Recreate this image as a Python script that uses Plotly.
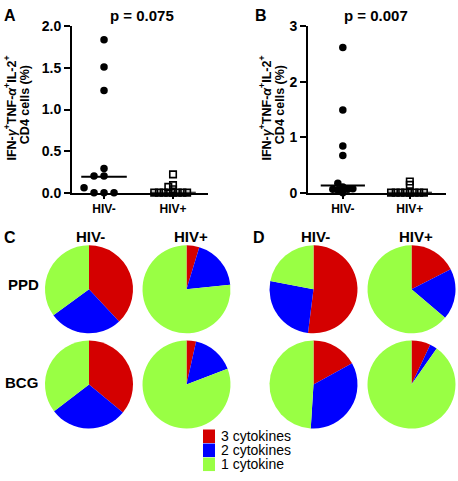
import plotly.graph_objects as go

# ---------------- data ----------------
groups = ["HIV-", "HIV+"]

A_hivneg = [1.84, 1.51, 1.23, 0.29, 0.20, 0.20, 0.06, 0.0, 0.0, 0.0]
A_hivpos = [0.22, 0.09, 0.07, 0.04, 0.0, 0.0, 0.0, 0.0, 0.0, 0.0, 0.0, 0.0]
A_medians = [0.19, 0.0]
A_ticks = [0, 0.5, 1.0, 1.5, 2.0]
A_pvalue = "p = 0.075"

B_hivneg = [2.62, 1.49, 0.84, 0.67, 0.17, 0.10, 0.07, 0.06, 0.06, 0.05, 0.0]
B_hivpos = [0.20, 0.14, 0.0, 0.0, 0.0, 0.0, 0.0, 0.0, 0.0, 0.0]
B_medians = [0.13, 0.0]
B_ticks = [0, 1, 2, 3]
B_pvalue = "p = 0.007"

categories = ["3 cytokines", "2 cytokines", "1 cytokine"]
C_PPD_hivneg = [38.0, 27.0, 35.0]
C_PPD_hivpos = [4.7, 18.6, 76.7]
C_BCG_hivneg = [36.0, 28.6, 35.4]
C_BCG_hivpos = [3.5, 15.7, 80.8]
D_PPD_hivneg = [52.0, 26.0, 22.0]
D_PPD_hivpos = [17.5, 18.7, 63.8]
D_BCG_hivneg = [17.0, 34.0, 49.0]
D_BCG_hivpos = [7.0, 2.7, 90.3]
stimuli = ["PPD", "BCG"]

colors = ["#d40000", "#0000ff", "#99ff44"]

# ---------------- layout helpers ----------------
W, H = 458, 481
FONT = "Liberation Sans, Arial, sans-serif"


def px(x):
    return x / W


def py(y):
    return 1 - y / H


def swarm(values, ppx, ppy, diam, step):
    """Simple deterministic beeswarm offsets (in data x units)."""
    placed = []
    offs = [0.0] * len(values)
    order = sorted(range(len(values)), key=lambda i: values[i])
    cands = [0] + [s * k for k in range(1, 30) for s in (-1, 1)]
    for i in order:
        yv = values[i] * ppy
        xo = 0
        for c in cands:
            xo = c * step
            if all((xo - a) ** 2 + (yv - b) ** 2 >= diam ** 2 - 1e-6 for a, b in placed):
                break
        placed.append((xo, yv))
        offs[i] = xo / ppx
    return offs


fig = go.Figure()

panels = [
    dict(xa="x", ya="y", neg=A_hivneg, pos=A_hivpos, med=A_medians,
         xdom=(72, 208), ydom=(191, 19), xr=(-0.464, 1.507), yr=(0, 2),
         ticks=A_ticks, fmt=".1f", cdiam=7.5),
    dict(xa="x2", ya="y2", neg=B_hivneg, pos=B_hivpos, med=B_medians,
         xdom=(308, 446), ydom=(191, 19), xr=(-0.52, 1.54), yr=(0, 3),
         ticks=B_ticks, fmt="d", cdiam=5.0),
]

for p in panels:
    ppx = (p["xdom"][1] - p["xdom"][0]) / (p["xr"][1] - p["xr"][0])
    ppy = (p["ydom"][0] - p["ydom"][1]) / (p["yr"][1] - p["yr"][0])
    off_n = swarm(p["neg"], ppx, ppy, p["cdiam"], 5.0)
    off_p = swarm(p["pos"], ppx, ppy, 3.3, 4.7)
    fig.add_trace(go.Scatter(
        x=[0 + o for o in off_n], y=p["neg"], mode="markers",
        marker=dict(symbol="circle", size=7.5, color="black"),
        xaxis=p["xa"], yaxis=p["ya"], cliponaxis=False, showlegend=False))
    fig.add_trace(go.Scatter(
        x=[1 + o for o in off_p], y=p["pos"], mode="markers",
        marker=dict(symbol="square-open", size=6.5, color="black",
                    line=dict(width=1.6, color="black")),
        xaxis=p["xa"], yaxis=p["ya"], cliponaxis=False, showlegend=False))
    for gi, m in enumerate(p["med"]):
        fig.add_trace(go.Scatter(
            x=[gi - 0.33, gi + 0.33], y=[m, m], mode="lines",
            line=dict(color="black", width=2),
            xaxis=p["xa"], yaxis=p["ya"], cliponaxis=False, showlegend=False))

axis_common = dict(showline=True, linewidth=2, linecolor="black", showgrid=False,
                   zeroline=False, ticks="outside", tickwidth=2, tickcolor="black")

layout_axes = {}
for i, p in enumerate(panels):
    sx = "xaxis" if i == 0 else "xaxis2"
    sy = "yaxis" if i == 0 else "yaxis2"
    layout_axes[sx] = dict(
        axis_common, domain=[px(p["xdom"][0]), px(p["xdom"][1])], range=list(p["xr"]),
        tickmode="array", tickvals=[0, 1], ticktext=groups, ticklen=4,
        tickfont=dict(family=FONT, size=12, color="black", weight="bold"),
        anchor=p["ya"])
    layout_axes[sy] = dict(
        axis_common, domain=[py(p["ydom"][0]), py(p["ydom"][1])], range=list(p["yr"]),
        tickmode="array", tickvals=p["ticks"], tickformat=p["fmt"], ticklen=6,
        tickfont=dict(family=FONT, size=14, color="black", weight="bold"),
        anchor=p["xa"])

# ---------------- pies ----------------
pies = [
    (C_PPD_hivneg, 89, 291), (C_PPD_hivpos, 186.5, 291),
    (C_BCG_hivneg, 89, 389.5), (C_BCG_hivpos, 186.5, 389.5),
    (D_PPD_hivneg, 313.5, 291), (D_PPD_hivpos, 411.5, 291),
    (D_BCG_hivneg, 313.5, 389.5), (D_BCG_hivpos, 411.5, 389.5),
]
R = 45.5
for vals, cx, cy in pies:
    fig.add_trace(go.Pie(
        labels=categories, values=vals, sort=False, direction="clockwise",
        rotation=0, textinfo="none", marker=dict(colors=colors, line=dict(width=0)),
        domain=dict(x=[px(cx - R), px(cx + R)], y=[py(cy + R), py(cy - R)]),
        showlegend=False, hoverinfo="label+percent"))

# ---------------- annotations ----------------
ann = []


def text(t, x, y, size=15, bold=True, xanchor="center", angle=0):
    ann.append(dict(text=t, x=px(x), y=py(y), xref="paper", yref="paper",
                    xanchor=xanchor, yanchor="middle", showarrow=False,
                    textangle=angle,
                    font=dict(family=FONT, size=size, color="black",
                              weight="bold" if bold else "normal")))


ytitle1 = "IFN-<i>γ</i><sup>+</sup>TNF-<i>α</i><sup>+</sup>IL-2<sup>+</sup>"
ytitle2 = "CD4 cells (%)"

text("A", 2, 8, size=16, xanchor="left")
text(A_pvalue, 141.5, 8)
text(ytitle1, 10, 104, size=12.5, angle=-90)
text(ytitle2, 24.5, 100, size=12.5, angle=-90)

text("B", 253, 8, size=16, xanchor="left")
text(B_pvalue, 376, 8)
text(ytitle1, 265, 104, size=12.5, angle=-90)
text(ytitle2, 279.5, 100, size=12.5, angle=-90)

text("C", 2, 237, size=16, xanchor="left")
text(groups[0], 90, 236)
text(groups[1], 191, 236)
text(stimuli[0], 23, 286)
text(stimuli[1], 21, 387)

text("D", 251, 237, size=16, xanchor="left")
text(groups[0], 315.5, 236)
text(groups[1], 415.5, 236)

# legend (manual)
shapes = []
for i, (cat, col) in enumerate(zip(categories, colors)):
    yc = 443 + 14.5 * i
    shapes.append(dict(type="rect", xref="paper", yref="paper",
                       x0=px(203), x1=px(215), y0=py(yc + 7), y1=py(yc - 7),
                       fillcolor=col, line=dict(width=0)))
    text(cat, 219, yc, size=14, bold=False, xanchor="left")

fig.update_layout(
    width=W, height=H, margin=dict(l=0, r=0, t=0, b=0),
    paper_bgcolor="white", plot_bgcolor="white",
    font=dict(family=FONT, color="black"),
    annotations=ann, shapes=shapes, showlegend=False,
    **layout_axes)

fig.write_html("out.html", config={"displayModeBar": False},
               post_script="document.body.style.margin='0';document.body.style.overflow='hidden';")
